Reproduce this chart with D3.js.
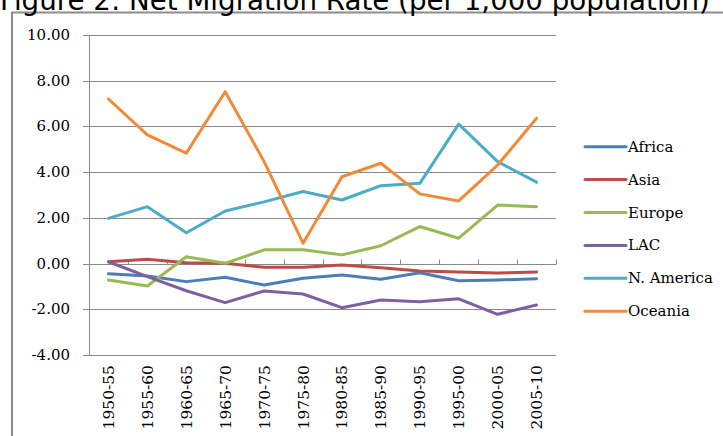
<!DOCTYPE html>
<html>
<head>
<meta charset="utf-8">
<script src="https://cdn.jsdelivr.net/npm/d3@7"></script>
<style>
  body { margin: 0; background: #fff; }
  svg { display: block; }
</style>
</head>
<body>
<svg></svg>
<script>
// data
var periods = ["1950-55","1955-60","1960-65","1965-70","1970-75","1975-80","1980-85","1985-90","1990-95","1995-00","2000-05","2005-10"];
var africa   = [-0.45,-0.54,-0.79,-0.60,-0.94,-0.64,-0.50,-0.69,-0.40,-0.75,-0.72,-0.66];
var asia     = [0.08,0.19,0.04,0.01,-0.16,-0.16,-0.06,-0.18,-0.32,-0.37,-0.41,-0.37];
var europe   = [-0.72,-0.98,0.30,0.01,0.60,0.60,0.38,0.78,1.62,1.11,2.56,2.49];
var lac      = [0.08,-0.57,-1.19,-1.71,-1.20,-1.33,-1.93,-1.59,-1.67,-1.54,-2.22,-1.81];
var nAmerica = [1.98,2.49,1.35,2.30,2.70,3.15,2.78,3.41,3.51,6.10,4.46,3.56];
var oceania  = [7.20,5.63,4.83,7.52,4.46,0.89,3.80,4.39,3.05,2.74,4.31,6.36];
var seriesNames = ["Africa","Asia","Europe","LAC","N. America","Oceania"];
var seriesColors = ["#4a7ebb","#be4b48","#98b954","#7d60a0","#4aacc5","#f08a38"];
var yTicks = [10,8,6,4,2,0,-2,-4];

var series = [africa, asia, europe, lac, nAmerica, oceania];

var W = 723, H = 436;
var svg = d3.select("svg").attr("width", W).attr("height", H);

// outer frame (only top and left edges are visible)
svg.append("path")
  .attr("d", "M12," + H + "V12.5H" + W)
  .attr("fill", "none")
  .attr("stroke", "#8c8c8c")
  .attr("stroke-width", 2);

// title, partially cut off at the top
var title = svg.append("text")
  .attr("x", 0)
  .attr("y", 10)
  .style("font-family", "Verdana, 'DejaVu Sans', sans-serif")
  .style("font-size", "22px")
  .attr("fill", "#000")
  .text("Figure 2: Net Migration Rate (per 1,000 population)");
var tw = title.node().getComputedTextLength();
title.style("font-size", (22 * 710 / tw) + "px");

var pLeft = 89, pRight = 556, pTop = 35, pBottom = 355;

var x = d3.scaleBand().domain(periods).range([pLeft, pRight]);
var y = d3.scaleLinear().domain([-4, 10]).range([pBottom, pTop]);

// gridlines
svg.append("g").selectAll("line")
  .data(yTicks).enter()
  .append("line")
  .attr("x1", pLeft - 6)
  .attr("x2", pRight)
  .attr("y1", function(d){ return Math.round(y(d)) + 0.5; })
  .attr("y2", function(d){ return Math.round(y(d)) + 0.5; })
  .attr("stroke", "#8a8a8a")
  .attr("stroke-width", 1);

// y axis line
svg.append("line")
  .attr("x1", pLeft + 0.5).attr("x2", pLeft + 0.5)
  .attr("y1", pTop).attr("y2", pBottom + 0.5)
  .attr("stroke", "#8a8a8a");

// category ticks along zero line
var y0 = Math.round(y(0)) + 0.5;
var bounds = periods.map(function(p){ return x(p) + x.bandwidth(); });
svg.append("g").selectAll("line")
  .data(bounds).enter()
  .append("line")
  .attr("x1", function(d){ return Math.round(d) + 0.5; })
  .attr("x2", function(d){ return Math.round(d) + 0.5; })
  .attr("y1", y0).attr("y2", y0 - 5)
  .attr("stroke", "#8a8a8a");

// y tick labels (plain hyphen for negatives, as in the original)
svg.append("g").selectAll("text")
  .data(yTicks).enter()
  .append("text")
  .attr("x", 70)
  .attr("y", function(d){ return y(d) + 5; })
  .attr("text-anchor", "end")
  .style("font-family", "'DejaVu Serif', serif")
  .style("font-size", "15px")
  .text(function(d){ return d.toFixed(2); });

// x labels rotated
svg.append("g").selectAll("text")
  .data(periods).enter()
  .append("text")
  .attr("transform", function(d){
    return "translate(" + (x(d) + x.bandwidth() / 2 + 5.5) + "," + (pBottom + 10) + ") rotate(-90)";
  })
  .attr("text-anchor", "end")
  .style("font-family", "'DejaVu Serif', serif")
  .style("font-size", "15.5px")
  .text(function(d){ return d; });

// lines
var line = d3.line()
  .x(function(d, i){ return x(periods[i]) + x.bandwidth() / 2; })
  .y(function(d){ return y(d); });

svg.append("g").selectAll("path")
  .data(series).enter()
  .append("path")
  .attr("d", line)
  .attr("fill", "none")
  .attr("stroke", function(d, i){ return seriesColors[i]; })
  .attr("stroke-width", 3)
  .attr("stroke-linejoin", "round")
  .attr("stroke-linecap", "round");

// legend
var lg = svg.append("g").selectAll("g")
  .data(seriesNames).enter()
  .append("g")
  .attr("transform", function(d, i){ return "translate(585," + (146.7 + i * 32.9) + ")"; });
lg.append("line")
  .attr("x1", 0).attr("x2", 41)
  .attr("stroke", function(d, i){ return seriesColors[i]; })
  .attr("stroke-width", 3)
  .attr("stroke-linecap", "round");
lg.append("text")
  .attr("x", 43)
  .attr("y", 5)
  .style("font-family", "'DejaVu Serif', serif")
  .style("font-size", "15px")
  .text(function(d){ return d; });
</script>
</body>
</html>
